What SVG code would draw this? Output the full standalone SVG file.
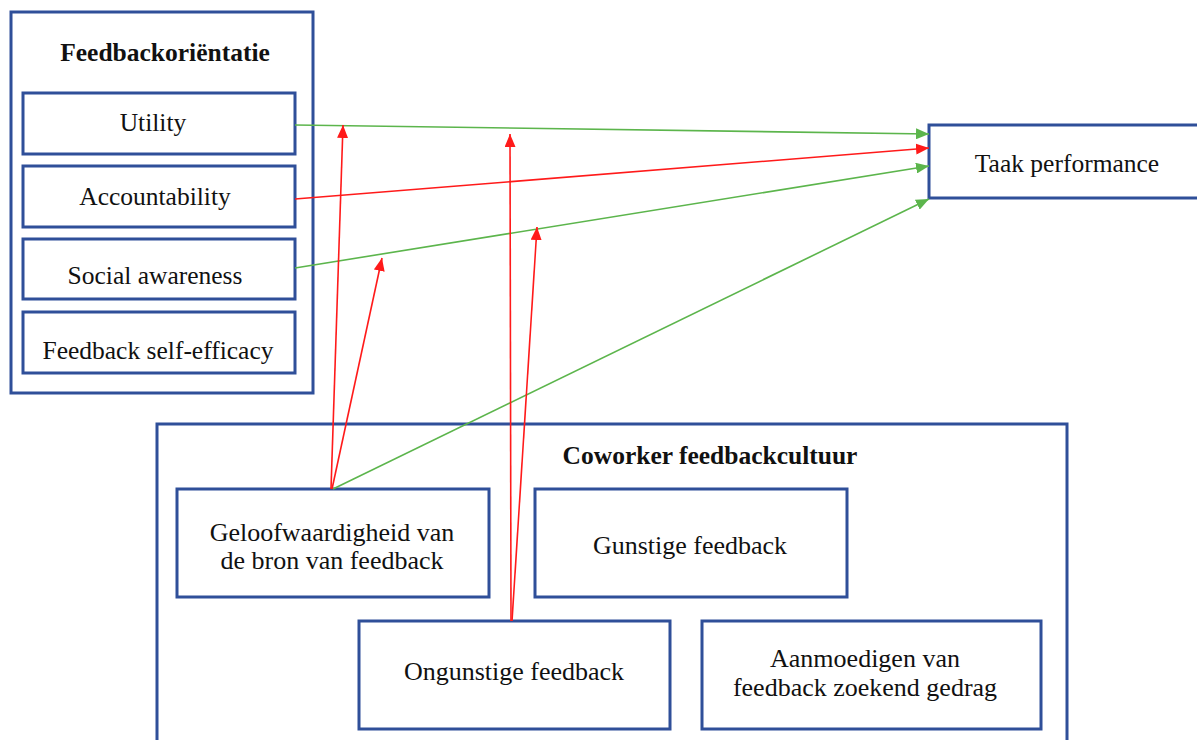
<svg xmlns="http://www.w3.org/2000/svg" width="1197" height="740" viewBox="0 0 1197 740">
<defs>
<style>
.box{fill:#fff;stroke:#2f4f99;stroke-width:3}
.t{font-family:"Liberation Serif","Times New Roman",serif;font-size:25.5px;fill:#111;text-anchor:middle}
.s{font-size:26px}
.b{font-weight:bold}
.g{stroke:#5cb54c;stroke-width:1.6;fill:none}
.r{stroke:#ff1a1a;stroke-width:1.6;fill:none}
</style>
<marker id="ag" viewBox="0 0 13 11" refX="13" refY="5.5" markerWidth="13" markerHeight="11" markerUnits="userSpaceOnUse" orient="auto"><path d="M0,0 L13,5.5 L0,11 Z" fill="#5cb54c"/></marker>
<marker id="ar" viewBox="0 0 13 11" refX="13" refY="5.5" markerWidth="13" markerHeight="11" markerUnits="userSpaceOnUse" orient="auto"><path d="M0,0 L13,5.5 L0,11 Z" fill="#ff1a1a"/></marker>
</defs>
<rect width="1197" height="740" fill="#fff"/>
<g id="feedbackorientatie">
<rect class="box" x="11" y="12" width="302" height="381"/>
<text class="t b" x="165" y="61">Feedbackoriëntatie</text>
</g>
<g id="utility"><rect class="box" x="23" y="93" width="272" height="61"/><text class="t" x="153" y="131">Utility</text></g>
<g id="accountability"><rect class="box" x="23" y="166" width="272" height="61"/><text class="t" x="155" y="205">Accountability</text></g>
<g id="social"><rect class="box" x="23" y="239" width="272" height="60"/><text class="t" x="155" y="284">Social awareness</text></g>
<g id="selfefficacy"><rect class="box" x="23" y="312" width="272" height="61"/><text class="t" x="158" y="359">Feedback self-efficacy</text></g>
<g id="taak"><rect class="box" x="929" y="125" width="275" height="73"/><text class="t" x="1067" y="172">Taak performance</text></g>
<g id="coworker">
<rect class="box" x="157" y="424" width="910" height="330"/>
<text class="t b" x="710" y="464">Coworker feedbackcultuur</text>
</g>
<g id="geloofwaardigheid"><rect class="box" x="177" y="489" width="312" height="108"/><text class="t s" x="332" y="541">Geloofwaardigheid van</text><text class="t s" x="332" y="569">de bron van feedback</text></g>
<g id="gunstige"><rect class="box" x="535" y="489" width="312" height="108"/><text class="t s" x="690" y="554">Gunstige feedback</text></g>
<g id="ongunstige"><rect class="box" x="359" y="621" width="311" height="108"/><text class="t s" x="514" y="680">Ongunstige feedback</text></g>
<g id="aanmoedigen"><rect class="box" x="702" y="621" width="339" height="108"/><text class="t s" x="865" y="667">Aanmoedigen van</text><text class="t s" x="865" y="696">feedback zoekend gedrag</text></g>
<g id="connectors">
<line class="g" x1="295" y1="125" x2="929" y2="134" marker-end="url(#ag)"/>
<line class="r" x1="295" y1="199" x2="929" y2="148" marker-end="url(#ar)"/>
<line class="g" x1="295" y1="268" x2="929" y2="166" marker-end="url(#ag)"/>
<line class="g" x1="333" y1="489" x2="929" y2="199" marker-end="url(#ag)"/>
<line class="r" x1="331" y1="489" x2="343" y2="125" marker-end="url(#ar)"/>
<line class="r" x1="332" y1="489" x2="382" y2="258" marker-end="url(#ar)"/>
<line class="r" x1="511" y1="621" x2="510" y2="134" marker-end="url(#ar)"/>
<line class="r" x1="512" y1="621" x2="537" y2="227" marker-end="url(#ar)"/>
</g>
</svg>
